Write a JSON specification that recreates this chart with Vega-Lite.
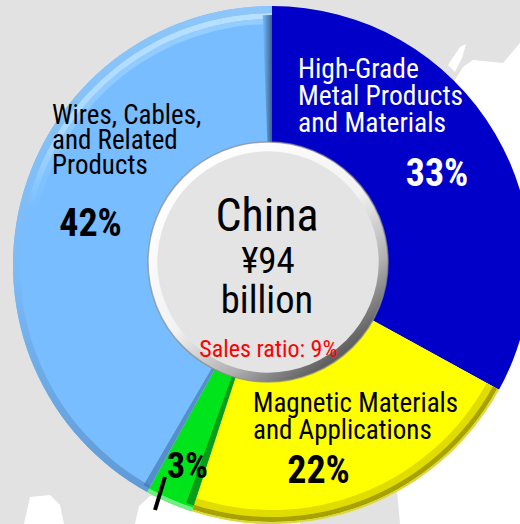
{
  "$schema": "https://vega.github.io/schema/vega-lite/v6.json",
  "width": 520,
  "height": 524,
  "padding": 0,
  "autosize": {"type": "none"},
  "background": "#e2e2e2",
  "view": {"stroke": null},
  "config": {"axis": {"disable": true}, "legend": {"disable": true}},
  "datasets": {
    "slices": [
      {"segment": "High-Grade Metal Products and Materials", "label": "High-Grade\nMetal Products\nand Materials", "share": 0.33, "order": 1},
      {"segment": "Magnetic Materials and Applications", "label": "Magnetic Materials\nand Applications", "share": 0.22, "order": 2},
      {"segment": "Other", "label": "", "share": 0.03, "order": 3},
      {"segment": "Wires, Cables, and Related Products", "label": "Wires, Cables,\nand Related\nProducts", "share": 0.42, "order": 4}
    ],
    "land": [
      {"part": "east", "mx": 520, "my": 43, "k": 1}, {"part": "east", "mx": 503, "my": 63, "k": 2}, {"part": "east", "mx": 473, "my": 60, "k": 3},
      {"part": "east", "mx": 463, "my": 67, "k": 4}, {"part": "east", "mx": 455, "my": 80, "k": 5}, {"part": "east", "mx": 380, "my": 300, "k": 6},
      {"part": "east", "mx": 400, "my": 524, "k": 7}, {"part": "east", "mx": 520, "my": 524, "k": 8},
      {"part": "south", "mx": 135, "my": 524, "k": 1}, {"part": "south", "mx": 139, "my": 506, "k": 2}, {"part": "south", "mx": 150, "my": 496, "k": 3},
      {"part": "south", "mx": 200, "my": 490, "k": 4}, {"part": "south", "mx": 300, "my": 510, "k": 5}, {"part": "south", "mx": 300, "my": 524, "k": 6},
      {"part": "isle", "mx": 24, "my": 524, "k": 1}, {"part": "isle", "mx": 30, "my": 497, "k": 2}, {"part": "isle", "mx": 50, "my": 495, "k": 3},
      {"part": "isle", "mx": 60, "my": 505, "k": 4}, {"part": "isle", "mx": 64, "my": 524, "k": 5},
      {"part": "inlet", "mx": 448, "my": 65, "k": 1}, {"part": "inlet", "mx": 460, "my": 47, "k": 2}, {"part": "inlet", "mx": 466, "my": 44, "k": 3},
      {"part": "inlet", "mx": 462, "my": 58, "k": 4}, {"part": "inlet", "mx": 455, "my": 72, "k": 5}
    ]
  },
  "encoding": {
    "x": {"type": "quantitative", "scale": {"domain": [0, 520], "nice": false, "zero": false}, "axis": null},
    "y": {"type": "quantitative", "scale": {"domain": [524, 0], "nice": false, "zero": false}, "axis": null}
  },
  "layer": [
    {
      "data": {"name": "land"},
      "mark": {"type": "line", "filled": true, "fill": "#ffffff", "stroke": null},
      "encoding": {"x": {"field": "mx"}, "y": {"field": "my"}, "order": {"field": "k"}, "detail": {"field": "part"}}
    },
    {
      "data": {"name": "slices"},
      "transform": [{"stack": "share", "sort": [{"field": "order"}], "as": ["a0", "a1"]}],
      "mark": {"type": "arc", "radius": 259, "radius2": 110},
      "encoding": {
        "x": {"datum": 272}, "y": {"datum": 265},
        "theta": {"field": "a0", "type": "quantitative", "scale": {"domain": [0, 1], "range": [0, 6.2832]}},
        "theta2": {"field": "a1"},
        "fill": {"field": "segment", "type": "nominal", "scale": {"domain": ["High-Grade Metal Products and Materials", "Magnetic Materials and Applications", "Other", "Wires, Cables, and Related Products"], "range": ["#0000c8", "#ffff00", "#00e41c", "#77bdff"]}}
      }
    },
    {
      "data": {"name": "slices"},
      "transform": [{"stack": "share", "sort": [{"field": "order"}], "as": ["a0", "a1"]}, {"filter": "datum.order == 4"}],
      "mark": {"type": "arc", "radius": 252, "radius2": 246,
        "fill": {"gradient": "linear", "x1": 0.5, "y1": 0, "x2": 0.5, "y2": 1, "stops": [{"offset": 0, "color": "#b8e0ff"}, {"offset": 0.25, "color": "#acdaff"}, {"offset": 0.42, "color": "#77bdff"}, {"offset": 1, "color": "#77bdff"}]}},
      "encoding": {"x": {"datum": 272}, "y": {"datum": 265}, "theta": {"field": "a0", "type": "quantitative", "scale": {"domain": [0, 1], "range": [0, 6.2832]}}, "theta2": {"field": "a1"}}
    },
    {
      "data": {"name": "slices"},
      "transform": [{"stack": "share", "sort": [{"field": "order"}], "as": ["a0", "a1"]}, {"filter": "datum.order == 4"}],
      "mark": {"type": "arc", "radius": 246, "radius2": 241,
        "fill": {"gradient": "linear", "x1": 0.5, "y1": 0, "x2": 0.5, "y2": 1, "stops": [{"offset": 0, "color": "#94ceff"}, {"offset": 0.25, "color": "#8cc9ff"}, {"offset": 0.42, "color": "#77bdff"}, {"offset": 1, "color": "#77bdff"}]}},
      "encoding": {"x": {"datum": 272}, "y": {"datum": 265}, "theta": {"field": "a0", "type": "quantitative", "scale": {"domain": [0, 1], "range": [0, 6.2832]}}, "theta2": {"field": "a1"}}
    },
    {
      "data": {"name": "slices"},
      "transform": [{"stack": "share", "sort": [{"field": "order"}], "as": ["a0", "a1"]}, {"filter": "datum.order == 4"}],
      "mark": {"type": "arc", "radius": 259, "radius2": 252,
        "fill": {"gradient": "linear", "x1": 0.5, "y1": 0, "x2": 0.5, "y2": 1, "stops": [{"offset": 0, "color": "#8cc6fa"}, {"offset": 0.55, "color": "#7abaf6"}, {"offset": 1, "color": "#5f9ad6"}]}},
      "encoding": {"x": {"datum": 272}, "y": {"datum": 265}, "theta": {"field": "a0", "type": "quantitative", "scale": {"domain": [0, 1], "range": [0, 6.2832]}}, "theta2": {"field": "a1"}}
    },
    {
      "data": {"name": "slices"},
      "transform": [{"stack": "share", "sort": [{"field": "order"}], "as": ["a0", "a1"]}, {"filter": "datum.order == 2"}],
      "mark": {"type": "arc", "radius": 252, "radius2": 245, "fill": "#e0dc00"},
      "encoding": {"x": {"datum": 272}, "y": {"datum": 265}, "theta": {"field": "a0", "type": "quantitative", "scale": {"domain": [0, 1], "range": [0, 6.2832]}}, "theta2": {"field": "a1"}}
    },
    {
      "data": {"name": "slices"},
      "transform": [{"stack": "share", "sort": [{"field": "order"}], "as": ["a0", "a1"]}, {"filter": "datum.order == 2"}],
      "mark": {"type": "arc", "radius": 257, "radius2": 252, "fill": "#a8a200"},
      "encoding": {"x": {"datum": 272}, "y": {"datum": 265}, "theta": {"field": "a0", "type": "quantitative", "scale": {"domain": [0, 1], "range": [0, 6.2832]}}, "theta2": {"field": "a1"}}
    },
    {
      "data": {"name": "slices"},
      "transform": [{"stack": "share", "sort": [{"field": "order"}], "as": ["a0", "a1"]}, {"filter": "datum.order == 2"}],
      "mark": {"type": "arc", "radius": 259, "radius2": 257, "fill": "#d8d650"},
      "encoding": {"x": {"datum": 272}, "y": {"datum": 265}, "theta": {"field": "a0", "type": "quantitative", "scale": {"domain": [0, 1], "range": [0, 6.2832]}}, "theta2": {"field": "a1"}}
    },
    {
      "data": {"name": "slices"},
      "transform": [{"stack": "share", "sort": [{"field": "order"}], "as": ["a0", "a1"]}, {"filter": "datum.order == 3"}],
      "mark": {"type": "arc", "radius": 259, "radius2": 255, "fill": "#70f080"},
      "encoding": {"x": {"datum": 272}, "y": {"datum": 265}, "theta": {"field": "a0", "type": "quantitative", "scale": {"domain": [0, 1], "range": [0, 6.2832]}}, "theta2": {"field": "a1"}}
    },
    {
      "data": {"name": "slices"},
      "transform": [{"stack": "share", "sort": [{"field": "order"}], "as": ["a0", "a1"]}, {"filter": "datum.order == 3"}, {"calculate": "datum.a0 + 0.005", "as": "edge"}],
      "mark": {"type": "arc", "radius": 253, "radius2": 110, "fill": "#0a8a1c", "opacity": 0.8},
      "encoding": {"x": {"datum": 272}, "y": {"datum": 265}, "theta": {"field": "a0", "type": "quantitative", "scale": {"domain": [0, 1], "range": [0, 6.2832]}}, "theta2": {"field": "edge"}}
    },
    {
      "data": {"name": "slices"},
      "transform": [{"stack": "share", "sort": [{"field": "order"}], "as": ["a0", "a1"]}, {"filter": "datum.order == 4"}, {"calculate": "datum.a0 + 0.004", "as": "edge"}],
      "mark": {"type": "arc", "radius": 255, "radius2": 110, "fill": "#3f6ea8", "opacity": 0.6},
      "encoding": {"x": {"datum": 272}, "y": {"datum": 265}, "theta": {"field": "a0", "type": "quantitative", "scale": {"domain": [0, 1], "range": [0, 6.2832]}}, "theta2": {"field": "edge"}}
    },
    {
      "data": {"name": "slices"},
      "transform": [{"stack": "share", "sort": [{"field": "order"}], "as": ["a0", "a1"]}, {"filter": "datum.order == 4"}, {"calculate": "datum.a1 - 0.006", "as": "edge"}],
      "mark": {"type": "arc", "radius": 250, "radius2": 110, "fill": {"gradient": "linear", "x1": 0, "y1": 0.5, "x2": 1, "y2": 0.5, "stops": [{"offset": 0, "color": "#77bdff"}, {"offset": 1, "color": "#3c5f90"}]}},
      "encoding": {"x": {"datum": 272}, "y": {"datum": 265}, "theta": {"field": "edge", "type": "quantitative", "scale": {"domain": [0, 1], "range": [0, 6.2832]}}, "theta2": {"field": "a1"}}
    },
    {
      "data": {"name": "slices"},
      "transform": [{"filter": "datum.order == 1"}],
      "mark": {"type": "point", "filled": true, "size": 57600, "shape": "circle", "opacity": 1, "stroke": "#8a8a8a", "strokeWidth": 1.5, "strokeOpacity": 0.7,
        "fill": {"gradient": "linear", "x1": 0.2, "y1": 0.1, "x2": 0.8, "y2": 0.9, "stops": [{"offset": 0, "color": "#ffffff"}, {"offset": 0.5, "color": "#f2f2f2"}, {"offset": 0.78, "color": "#b0b0b0"}, {"offset": 1, "color": "#5a5a5a"}]}},
      "encoding": {"x": {"datum": 268}, "y": {"datum": 262}}
    },
    {
      "data": {"name": "slices"},
      "transform": [{"filter": "datum.order == 1"}],
      "mark": {"type": "point", "filled": true, "size": 49000, "shape": "circle", "opacity": 1,
        "fill": {"gradient": "radial", "x1": 0.5, "y1": 0.5, "r1": 0, "x2": 0.5, "y2": 0.5, "r2": 0.5, "stops": [{"offset": 0, "color": "#e4e4e4"}, {"offset": 0.94, "color": "#e4e4e4"}, {"offset": 1, "color": "#e4e4e4", "opacity": 0}]}},
      "encoding": {"x": {"datum": 268}, "y": {"datum": 262}}
    },
    {
      "data": {"name": "slices"},
      "transform": [{"filter": "datum.order == 1"}],
      "mark": {"type": "text", "font": "Roboto Condensed, Liberation Sans", "align": "left", "baseline": "alphabetic", "lineBreak": "\n", "fontSize": 27.5, "lineHeight": 27, "fill": "#ffffff"},
      "encoding": {"x": {"datum": 298}, "y": {"datum": 78}, "text": {"field": "label"}}
    },
    {
      "data": {"name": "slices"},
      "transform": [{"filter": "datum.order == 2"}],
      "mark": {"type": "text", "font": "Roboto Condensed, Liberation Sans", "align": "left", "baseline": "alphabetic", "lineBreak": "\n", "fontSize": 27, "lineHeight": 27, "fill": "#000000"},
      "encoding": {"x": {"datum": 253}, "y": {"datum": 412}, "text": {"field": "label"}}
    },
    {
      "data": {"name": "slices"},
      "transform": [{"filter": "datum.order == 4"}],
      "mark": {"type": "text", "font": "Roboto Condensed, Liberation Sans", "align": "left", "baseline": "alphabetic", "lineBreak": "\n", "fontSize": 27, "lineHeight": 25, "fill": "#000000"},
      "encoding": {"x": {"datum": 52}, "y": {"datum": 124}, "text": {"field": "label"}}
    },
    {
      "data": {"name": "slices"},
      "transform": [{"filter": "datum.order == 1"}],
      "mark": {"type": "text", "font": "Roboto Condensed, Liberation Sans", "fontWeight": "bold", "align": "center", "baseline": "alphabetic", "fontSize": 38, "fill": "#ffffff"},
      "encoding": {"x": {"datum": 437}, "y": {"datum": 186}, "text": {"field": "share", "format": ".0%"}}
    },
    {
      "data": {"name": "slices"},
      "transform": [{"filter": "datum.order == 2"}],
      "mark": {"type": "text", "font": "Roboto Condensed, Liberation Sans", "fontWeight": "bold", "align": "center", "baseline": "alphabetic", "fontSize": 38, "fill": "#000000"},
      "encoding": {"x": {"datum": 318.5}, "y": {"datum": 483}, "text": {"field": "share", "format": ".0%"}}
    },
    {
      "data": {"name": "slices"},
      "transform": [{"filter": "datum.order == 3"}],
      "mark": {"type": "text", "font": "Roboto Condensed, Liberation Sans", "fontWeight": "bold", "align": "center", "baseline": "alphabetic", "fontSize": 36, "fill": "#000000"},
      "encoding": {"x": {"datum": 187.5}, "y": {"datum": 478}, "text": {"field": "share", "format": ".0%"}}
    },
    {
      "data": {"name": "slices"},
      "transform": [{"filter": "datum.order == 4"}],
      "mark": {"type": "text", "font": "Roboto Condensed, Liberation Sans", "fontWeight": "bold", "align": "center", "baseline": "alphabetic", "fontSize": 38, "fill": "#000000"},
      "encoding": {"x": {"datum": 90.5}, "y": {"datum": 236}, "text": {"field": "share", "format": ".0%"}}
    },
    {
      "data": {"values": [{"mx": 165, "my": 477}, {"mx": 155, "my": 510}]},
      "mark": {"type": "line", "stroke": "#000000", "strokeWidth": 4},
      "encoding": {"x": {"field": "mx"}, "y": {"field": "my"}}
    },
    {
      "data": {"values": [{"t": "China"}]},
      "mark": {"type": "text", "font": "Roboto Condensed, Liberation Sans", "align": "center", "baseline": "alphabetic", "fontSize": 46, "fill": "#000000"},
      "encoding": {"x": {"datum": 267}, "y": {"datum": 231}, "text": {"field": "t"}}
    },
    {
      "data": {"values": [{"t": "¥94"}]},
      "mark": {"type": "text", "font": "Roboto Condensed, Liberation Sans", "align": "center", "baseline": "alphabetic", "fontSize": 37, "fill": "#000000"},
      "encoding": {"x": {"datum": 268}, "y": {"datum": 273}, "text": {"field": "t"}}
    },
    {
      "data": {"values": [{"t": "billion"}]},
      "mark": {"type": "text", "font": "Roboto Condensed, Liberation Sans", "align": "center", "baseline": "alphabetic", "fontSize": 38.5, "fill": "#000000"},
      "encoding": {"x": {"datum": 267}, "y": {"datum": 313}, "text": {"field": "t"}}
    },
    {
      "data": {"values": [{"t": "Sales ratio: 9%"}]},
      "mark": {"type": "text", "font": "Roboto Condensed, Liberation Sans", "align": "center", "baseline": "alphabetic", "fontSize": 24, "fill": "#ff0000"},
      "encoding": {"x": {"datum": 268.5}, "y": {"datum": 357}, "text": {"field": "t"}}
    }
  ]
}
